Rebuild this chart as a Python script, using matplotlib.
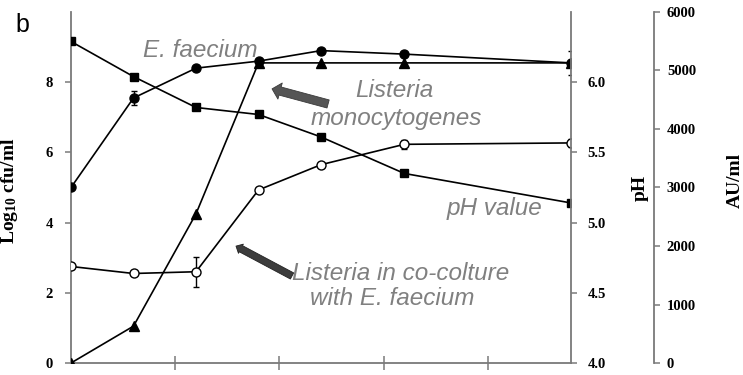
import matplotlib
matplotlib.use("Agg")
import matplotlib.pyplot as plt

# sampling times (h)
hours = [0, 3, 6, 9, 12, 16, 24]

# log10 cfu/ml
ef_log = [5.0, 7.55, 8.4, 8.6, 8.9, 8.8, 8.55]
ef_err = [0, 0.2, 0, 0, 0, 0, 0.34]
lm_log = [0.0, 1.05, 4.25, 8.55, 8.55, 8.55, 8.55]
co_log = [2.75, 2.55, 2.6, 4.93, 5.65, 6.23, 6.27]
co_err = [0, 0, 0.43, 0, 0, 0.12, 0.12]

# pH of the culture
ph = [6.29, 6.04, 5.82, 5.77, 5.61, 5.35, 5.14]

log_ticks = [0, 2, 4, 6, 8]
ph_ticks = [4.0, 4.5, 5.0, 5.5, 6.0]
au_ticks = [0, 1000, 2000, 3000, 4000, 5000, 6000]
time_ticks = [5, 10, 15, 20]

plt.rcParams['mathtext.default'] = 'regular'

spine_col = '#7a7a7a'
note_col = '#808080'
tick_font = dict(family='Liberation Serif', weight='bold', size=10.5)
label_font = dict(family='Liberation Serif', weight='bold', size=14)
note_font = dict(family='Liberation Sans', style='italic', size=17.5, color=note_col)

fig = plt.figure(figsize=(7.43, 3.75), dpi=100)
ax = fig.add_axes([71 / 743, 12 / 375, 500 / 743, 351 / 375])
ax_ph = ax.twinx()
ax_au = ax.twinx()

line_kw = dict(color='black', lw=1.2, ms=6.5, capsize=2.5, elinewidth=1.0, capthick=1.0)
ax.errorbar(hours, ef_log, yerr=ef_err, marker='o', mfc='black', mec='black', zorder=4, **line_kw)
ax.errorbar(hours, lm_log, marker='^', mfc='black', mec='black', zorder=3, **line_kw)
ax.errorbar(hours, co_log, yerr=co_err, marker='o', mfc='white', mec='black', zorder=4, **line_kw)
ax_ph.plot(hours, ph, color='black', lw=1.2, marker='s', ms=6, mfc='black', mec='black')

ax.set_xlim(0, 24)
ax.set_ylim(0, 10)
ax.set_yticks(log_ticks)
ax.set_xticks(time_ticks)
ax.set_xticklabels([])
ax.tick_params(axis='x', direction='inout', length=10, width=1.1, color=spine_col)
ax.tick_params(axis='y', direction='out', length=4, width=1.1, color=spine_col, pad=9)
for lab in ax.get_yticklabels():
    lab.set(**tick_font)
ax.set_ylabel('Log$_{10}$ cfu/ml', **label_font)
ax.yaxis.set_label_coords(-0.102, 0.49)
for s in ['top', 'right']:
    ax.spines[s].set_visible(False)
for s in ['left', 'bottom']:
    ax.spines[s].set_color(spine_col)
    ax.spines[s].set_linewidth(1.3)

ax_ph.set_ylim(4.0, 6.5)
ax_ph.set_yticks(ph_ticks)
ax_ph.set_yticklabels(['%.1f' % v for v in ph_ticks])
ax_ph.tick_params(axis='y', direction='out', length=4, width=1.1, color=spine_col, pad=8)
for lab in ax_ph.get_yticklabels():
    lab.set(**tick_font)
ax_ph.set_ylabel('pH', **label_font)
ax_ph.yaxis.set_label_coords(1.122, 0.5)

ax_au.spines['right'].set_position(('outward', 60))
ax_au.set_ylim(0, 6000)
ax_au.set_yticks(au_ticks)
ax_au.tick_params(axis='y', direction='out', length=4, width=1.1, color=spine_col, pad=5)
for lab in ax_au.get_yticklabels():
    lab.set(**tick_font)
ax_au.set_ylabel('AU/ml', **label_font)
ax_au.yaxis.set_label_coords(1.312, 0.52)

for a in (ax_ph, ax_au):
    for s in ['top', 'left', 'bottom']:
        a.spines[s].set_visible(False)
    a.spines['right'].set_color(spine_col)
    a.spines['right'].set_linewidth(1.3)

# series names written inside the plot
ax.text(3.46, 8.73, 'E. faecium', ha='left', va='baseline', **note_font)
ax.text(15.5, 7.57, 'Listeria', ha='center', va='baseline', **note_font)
ax.text(15.6, 6.78, 'monocytogenes', ha='center', va='baseline', **note_font)
ax.text(20.35, 4.22, 'pH value', ha='center', va='baseline', **note_font)
ax.text(10.6, 2.36, 'Listeria in co-colture', ha='left', va='baseline', **note_font)
ax.text(15.4, 1.65, 'with E. faecium', ha='center', va='baseline', **note_font)

ax.annotate('', xy=(9.65, 7.81), xytext=(12.34, 7.38),
            arrowprops=dict(arrowstyle='simple,head_width=1.2,head_length=0.6,tail_width=0.6',
                            mutation_scale=10, fc='#555555', ec='#3a3a3a', lw=0.6,
                            shrinkA=0, shrinkB=0))
ax.annotate('', xy=(7.92, 3.33), xytext=(10.61, 2.48),
            arrowprops=dict(arrowstyle='simple,head_width=0.75,head_length=0.4,tail_width=0.5',
                            mutation_scale=10, fc='#3c3c3c', ec='#222222', lw=0.6,
                            shrinkA=0, shrinkB=0))

fig.text(15 / 743, 1 - 32 / 375, 'b', family='Liberation Sans', size=18, ha='left', va='baseline')

fig.savefig('out.png', dpi=100)
